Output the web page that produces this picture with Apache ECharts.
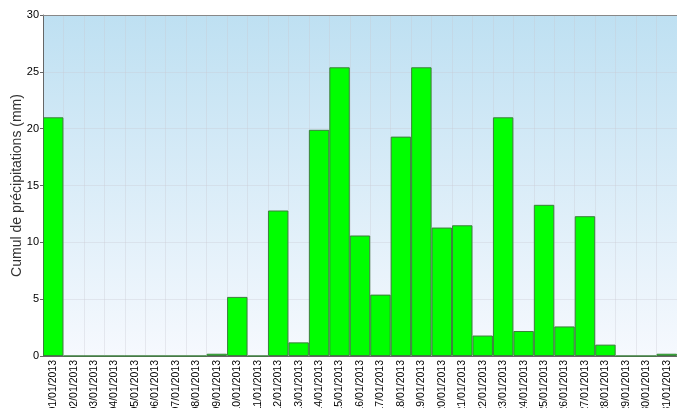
<!DOCTYPE html>
<html>
<head>
<meta charset="utf-8">
<script src="https://cdn.jsdelivr.net/npm/echarts@6/dist/echarts.min.js"></script>
<style>html,body{margin:0;padding:0;background:#fff}#c{width:677px;height:408px}</style>
</head>
<body>
<div id="c"></div>
<script>
const categories = ['01/01/2013','02/01/2013','03/01/2013','04/01/2013','05/01/2013','06/01/2013','07/01/2013','08/01/2013','09/01/2013','10/01/2013','11/01/2013','12/01/2013','13/01/2013','14/01/2013','15/01/2013','16/01/2013','17/01/2013','18/01/2013','19/01/2013','20/01/2013','21/01/2013','22/01/2013','23/01/2013','24/01/2013','25/01/2013','26/01/2013','27/01/2013','28/01/2013','29/01/2013','30/01/2013','31/01/2013'];
const precipitation = [21.0,0,0,0,0,0,0,0,0.2,5.2,0,12.8,1.2,19.9,25.4,10.6,5.4,19.3,25.4,11.3,11.5,1.8,21.0,2.2,13.3,2.6,12.3,1.0,0,0,0.2];
const yTicks = {min:0, max:30, interval:5};
const yTitle = 'Cumul de précipitations (mm)';

const chart = echarts.init(document.getElementById('c'), null, {renderer:'canvas'});
chart.setOption({
  animation:false,
  textStyle:{fontFamily:'Liberation Sans, Arial, sans-serif'},
  grid:{left:43,right:0,top:15,bottom:52,containLabel:false,outerBoundsMode:'none',show:true,borderWidth:0,
    backgroundColor:new echarts.graphic.LinearGradient(0,0,0,1,[{offset:0,color:'#bee0f2'},{offset:1,color:'#f6f9fe'}])},
  xAxis:[{
    type:'category',data:categories,boundaryGap:true,
    axisLine:{lineStyle:{color:'#666',width:1}},
    axisTick:{show:false},
    axisLabel:{rotate:90,interval:0,fontSize:10.5,color:'#000',margin:4,hideOverlap:false},
    splitLine:{show:true,interval:0,lineStyle:{color:'rgba(200,200,210,0.35)',width:1}}
  },{
    type:'category',data:categories,position:'top',
    axisLine:{lineStyle:{color:'#888',width:1}},
    axisTick:{show:false},axisLabel:{show:false},splitLine:{show:false}
  }],
  yAxis:{
    type:'value',min:yTicks.min,max:yTicks.max,interval:yTicks.interval,
    name:yTitle,nameLocation:'middle',nameGap:19,nameMoveOverlap:false,
    nameTextStyle:{fontSize:14,color:'#333'},
    axisLine:{show:true,lineStyle:{color:'#666'}},
    axisTick:{show:true,length:3,lineStyle:{color:'#666'}},
    axisLabel:{fontSize:11,color:'#000',margin:4},
    splitLine:{show:true,lineStyle:{color:'rgba(200,200,210,0.35)'}}
  },
  series:[{
    type:'bar',data:precipitation,barWidth:'100%',barCategoryGap:'0%',
    itemStyle:{color:'#00ff00',borderColor:'#3c7f3c',borderWidth:1}
  }]
});
</script>
</body>
</html>
